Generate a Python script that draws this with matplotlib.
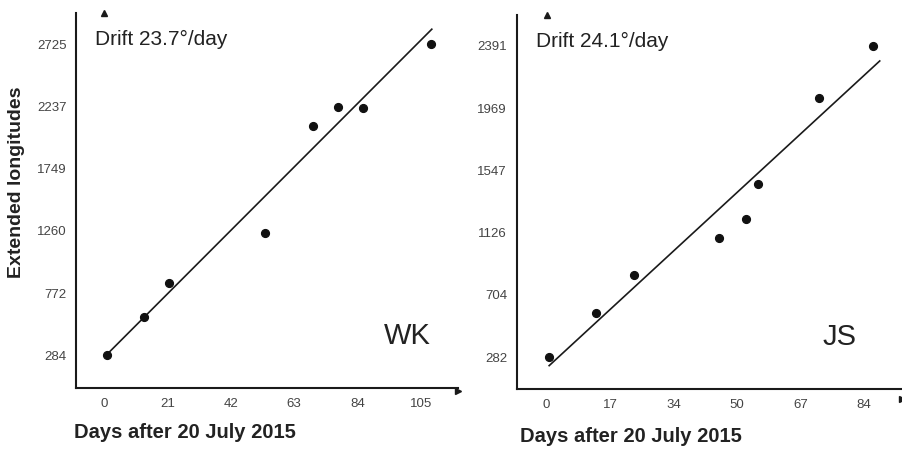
import numpy as np
import matplotlib
matplotlib.use('Agg')
import matplotlib.pyplot as plt

plt.rcParams['font.family'] = ['Liberation Sans', 'DejaVu Sans']

# WK panel
wk_days = [1.1, 13.4, 21.6, 53.4, 69.4, 77.7, 86.0, 108.5]
wk_lon = [284, 587, 854, 1242, 2084, 2233, 2223, 2725]
wk_fit_days = [1.1, 108.7]
wk_fit_lon = [294, 2843]
wk_xticks = [0, 21, 42, 63, 84, 105]
wk_yticks = [284, 772.2, 1260.4, 1748.6, 2236.8, 2725]

# JS panel
js_days = [0.6, 13.0, 23.1, 45.7, 52.7, 55.9, 72.1, 86.4]
js_lon = [286, 584, 839, 1090, 1218, 1457, 2040, 2392]
js_fit_days = [0.7, 88.2]
js_fit_lon = [225, 2288]
js_xticks = [0, 16.8, 33.6, 50.4, 67.2, 84]
js_yticks = [282, 703.8, 1125.6, 1547.4, 1969.2, 2391]

panels = [
    dict(rect=[0.0843, 0.1378, 0.4235, 0.833], days=wk_days, lon=wk_lon,
         fd=wk_fit_days, fl=wk_fit_lon, xt=wk_xticks, yt=wk_yticks,
         xlim=(-9.3, 117.4), ylim=(27, 2969), drift='Drift 23.7°/day',
         name='WK', name_x=0.805, xlab=(74 / 902, 1 - 433 / 450)),
    dict(rect=[0.5728, 0.1356, 0.4268, 0.831], days=js_days, lon=js_lon,
         fd=js_fit_days, fl=js_fit_lon, xt=js_xticks, yt=js_yticks,
         xlim=(-7.9, 94.0), ylim=(67, 2599), drift='Drift 24.1°/day',
         name='JS', name_x=0.795, xlab=(520 / 902, 1 - 437 / 450)),
]

fig = plt.figure(figsize=(9.02, 4.5), dpi=100)

for p in panels:
    ax = fig.add_axes(p['rect'])
    ax.plot(p['fd'], p['fl'], color='#1a1a1a', linewidth=1.2)
    ax.plot(p['days'], p['lon'], 'o', color='#111111', markersize=5.6)
    ax.set_xlim(*p['xlim'])
    ax.set_ylim(*p['ylim'])
    ax.set_xticks(p['xt'])
    ax.set_xticklabels([f'{v:.0f}' for v in p['xt']])
    ax.set_yticks(p['yt'])
    ax.set_yticklabels([f'{v:.0f}' for v in p['yt']])
    ax.tick_params(length=0, labelsize=9.5, labelcolor='#444444', pad=7)
    for s in ['top', 'right']:
        ax.spines[s].set_visible(False)
    for s in ['left', 'bottom']:
        ax.spines[s].set_linewidth(1.5)
        ax.spines[s].set_color('#1a1a1a')
    # axis arrows
    ax.plot(1, 0, '>', color='#1a1a1a', markersize=4,
            transform=ax.get_yaxis_transform(), clip_on=False)
    ax.plot(0, 1, '^', color='#1a1a1a', markersize=4,
            transform=ax.get_xaxis_transform(), clip_on=False)
    ax.text(0.05, 0.93, p['drift'], transform=ax.transAxes, fontsize=15,
            color='#222222', va='center', ha='left')
    ax.text(p['name_x'], 0.14, p['name'], transform=ax.transAxes,
            fontsize=21, color='#222222', va='center', ha='left')
    fig.text(p['xlab'][0], p['xlab'][1], 'Days after 20 July 2015',
             fontsize=14.5, fontweight='bold', color='#222222',
             ha='left', va='center')
    ax.patch.set_alpha(0)

fig.text(17 / 902, 1 - 182 / 450, 'Extended longitudes', rotation=90,
         fontsize=14, fontweight='bold', color='#222222',
         ha='center', va='center')

fig.savefig('out.png', dpi=100)
